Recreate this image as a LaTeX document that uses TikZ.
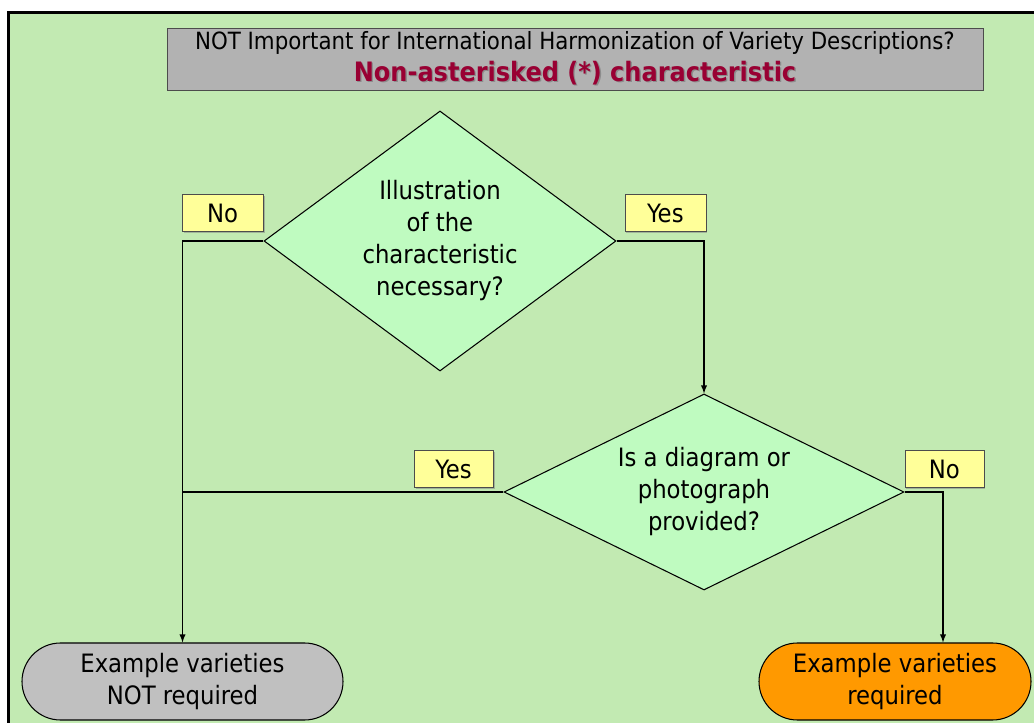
\documentclass[tikz,border=0pt]{standalone}
\usepackage{fontspec}
\setmainfont{DejaVu Sans Condensed}
\usetikzlibrary{arrows, positioning, shapes.geometric, shapes.misc, shadows}
\definecolor{bggreen}{RGB}{194,234,178}
\definecolor{decgreen}{RGB}{191,251,192}
\definecolor{titlegray}{RGB}{178,178,178}
\definecolor{endgray}{RGB}{192,192,192}
\definecolor{labyellow}{RGB}{255,255,153}
\definecolor{endorange}{RGB}{255,153,0}
\definecolor{titlered}{RGB}{153,0,51}
\tikzset{
  dec/.style={diamond, draw, fill=decgreen, line width=0.6pt, inner sep=0pt, align=center},
  lab/.style={draw=black!70, fill=labyellow, minimum height=7.4mm, inner sep=0pt,
    drop shadow={shadow xshift=0.8pt, shadow yshift=-0.8pt, opacity=0.5}},
  term/.style={rounded rectangle, draw, line width=0.6pt, minimum height=15.4mm, inner sep=0pt, align=center},
  tra/.style={->, >=latex, line width=0.6pt},
  lin/.style={line width=0.6pt}
}

\begin{document}
\begin{tikzpicture}[font=\fontsize{14.4}{18.2}\selectfont]
		\clip (0,0) rectangle (20.68,14.44);
		\draw[line width=1.7pt, fill=bggreen] (0.17,-1) rectangle (21.5,14.19);
		\node[draw=black!70, fill=titlegray, minimum width=16.32cm, minimum height=1.24cm, align=center, inner sep=1pt,
			drop shadow={shadow xshift=0.8pt, shadow yshift=-0.8pt, opacity=0.5}] (T0) at (11.5,13.26)
			{{\fontsize{13.5}{16.4}\selectfont NOT Important for International Harmonization of Variety Descriptions?}\\
			{\fontsize{15.2}{16.4}\selectfont\bfseries\rlap{\hspace{0.8pt}\raisebox{-0.8pt}{\color{black!45}Non-asterisked (*) characteristic}}\color{titlered}Non-asterisked (*) characteristic}};
		\node[dec, aspect=1.354, minimum width=7.04cm, minimum height=5.2cm] (D1) at (8.8,9.62)
			{Illustration\\of the\\characteristic\\necessary?};
		\node[dec, aspect=2.04, minimum width=8cm, minimum height=3.92cm] (D2) at (14.08,4.6)
			{Is a diagram or\\photograph\\provided?};
		\node[lab, minimum width=1.62cm, anchor=south east] (N1) at ([yshift=0.18cm]D1.west) {No};
		\node[lab, minimum width=1.62cm, anchor=south west] (Y1) at ([xshift=0.16cm, yshift=0.18cm]D1.east) {Yes};
		\node[lab, minimum width=1.58cm, anchor=south east] (Y2) at ([xshift=-0.2cm, yshift=0.08cm]D2.west) {Yes};
		\node[lab, minimum width=1.58cm, anchor=south west] (N2) at ([yshift=0.08cm]D2.east) {No};
		\node[term, fill=endgray, minimum width=6.42cm] (E1) at (3.65,0.81) {Example varieties\\NOT required};
		\node[term, fill=endorange, minimum width=5.44cm] (E2) at (17.9,0.81) {Example varieties\\required};
		\draw[tra] (D1.west) -| (E1.north);
		\draw[lin] (D2.west) -- (D2.west -| E1.north);
		\draw[tra] (D1.east) -| (D2.north);
		\draw[tra] (D2.east) -| ([xshift=0.96cm]E2.north);
	\end{tikzpicture}
\end{document}
